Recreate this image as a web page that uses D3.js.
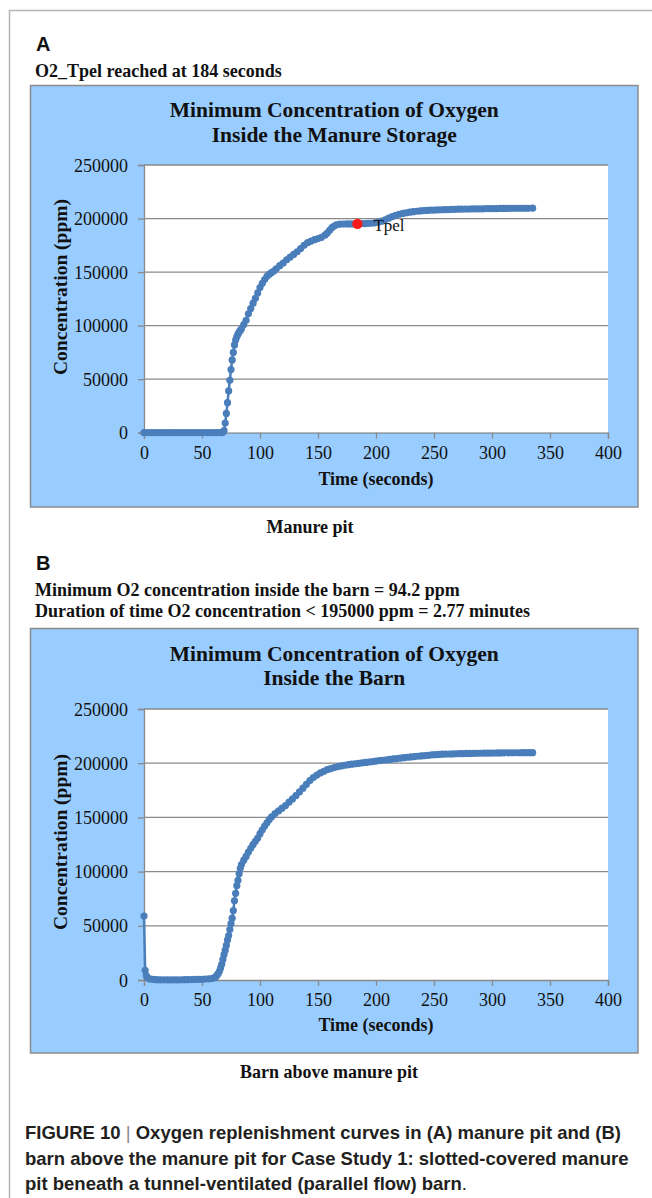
<!DOCTYPE html>
<html>
<head>
<meta charset="utf-8">
<script src="https://cdn.jsdelivr.net/npm/d3@7/dist/d3.min.js"></script>
<style>
  html, body { margin: 0; padding: 0; background: #fff; }
  svg { display: block; }
</style>
</head>
<body>
<svg id="fig" width="652" height="1198"></svg>
<script>
// ---------- DATA ----------
const xTicks = [0, 50, 100, 150, 200, 250, 300, 350, 400];
const yTicks = [0, 50000, 100000, 150000, 200000, 250000];

// Panel A – manure pit
const timeA = [0,3,6,9,12,15,18,21,24,27,30,33,36,39,42,45,48,51,54,57,60,63,66,67,68,69,70,71,72,73,74,75,76,77,78,79,80,81,82,83,84,86,88,90,92,94,96,98,100,102,104,106,108,110,112,114,117,120,123,126,129,132,135,138,141,144,147,150,153,156,158,160,162,164,166,169,172,175,178,181,184,187,190,193,196,199,202,205,208,211,214,217,220,223,226,229,232,235,238,241,244,247,250,253,256,259,262,265,268,271,274,277,280,283,286,289,292,295,298,301,304,307,310,313,316,319,322,325,328,331,335];
const concA = [0,0,0,0,0,0,0,0,0,0,0,0,0,0,0,0,0,0,0,0,0,0,0,0,500,2000,9000,18000,28000,39000,49000,59000,68000,75000,82000,86500,89500,92000,94000,95500,97000,101000,105000,111000,116000,121000,125500,130500,135500,139500,143000,146000,148000,149500,151000,153000,156000,158500,161500,164000,166500,169000,172000,175000,177500,179000,180300,181300,182500,184500,186500,189000,191500,193000,194200,194700,194900,195000,195000,195000,195100,195200,195300,195400,195600,196000,196600,197500,198800,200300,201800,203000,204000,204800,205400,205900,206400,206800,207100,207400,207600,207800,207900,208000,208200,208300,208400,208500,208600,208700,208800,208900,208900,209000,209000,209100,209100,209200,209200,209300,209300,209400,209400,209400,209500,209500,209500,209600,209600,209600,209700];
const tpel = { time: 184, conc: 195000, label: "Tpel" };

// Panel B – barn above manure pit
const timeB = [0,1,2,3,5,8,11,14,17,20,23,26,29,32,35,38,41,44,47,50,53,56,59,61,62,63,64,65,66,67,68,69,70,71,72,73,74,75,76,77,78,79,80,81,82,83,84,86,88,90,92,94,96,98,100,102,104,106,108,110,113,116,119,122,125,128,131,134,137,140,143,146,149,152,155,158,161,164,167,170,173,176,179,182,185,188,191,194,197,200,203,206,209,212,215,218,221,224,227,230,233,236,239,242,245,248,251,254,257,260,263,266,269,272,275,278,281,284,287,290,293,296,299,302,305,308,311,314,317,320,323,326,329,332,335];
const concB = [59000,9000,4000,2000,1000,500,300,200,150,100,100,150,200,250,300,350,400,500,600,700,900,1100,1500,2300,3000,4500,6000,8000,11000,14500,19000,23500,27500,32000,37000,41000,46500,52000,57000,64000,73000,80000,87000,92000,98000,103000,106500,110500,114000,118000,121500,125000,128000,131000,135000,138500,142000,145000,148000,150500,153500,156000,158500,161000,164000,167000,170000,173500,177000,180500,184000,186800,189000,191000,192500,194000,195000,196000,196800,197500,198100,198600,199100,199500,199900,200300,200700,201100,201500,201900,202300,202700,203100,203500,203900,204300,204700,205100,205500,205800,206100,206400,206700,207000,207300,207600,207900,208100,208300,208400,208500,208600,208700,208800,208900,209000,209050,209100,209150,209200,209250,209300,209350,209400,209450,209500,209550,209600,209620,209640,209660,209680,209700,209700,209700];

// ---------- DRAWING ----------
const svg = d3.select("#fig");
const SERIF = "'Liberation Serif','Times New Roman',serif";
const SANS = "'Liberation Sans',Arial,Helvetica,sans-serif";
const LINE_COL = "#4a7ebb";
const GRID_COL = "#8a8a8a";

// outer frame
svg.append("path")
  .attr("d", "M652,10.5 H9.5 V1198")
  .attr("fill", "none").attr("stroke", "#b5b5b5").attr("stroke-width", 1.5);

function panel(cfg) {
  const g = svg.append("g");
  // blue chart area
  g.append("rect")
    .attr("x", cfg.box[0]).attr("y", cfg.box[1])
    .attr("width", cfg.box[2]).attr("height", cfg.box[3])
    .attr("fill", "#99ccff").attr("stroke", "#8c8c8c").attr("stroke-width", 1.5);

  const x = d3.scaleLinear().domain([0, 400]).range([144, 608]);
  const y = d3.scaleLinear().domain([0, 250000]).range(cfg.yRange);

  // plot area
  g.append("rect")
    .attr("x", x(0)).attr("y", y(250000))
    .attr("width", x(400) - x(0)).attr("height", y(0) - y(250000))
    .attr("fill", "#fff");

  // gridlines
  g.append("g").selectAll("line").data(yTicks.filter(d => d > 0)).join("line")
    .attr("x1", x(0)).attr("x2", x(400))
    .attr("y1", d => y(d)).attr("y2", d => y(d))
    .attr("stroke", GRID_COL).attr("stroke-width", 1.3);

  // y axis
  const ya = g.append("g").attr("transform", `translate(${x(0)},0)`)
    .call(d3.axisLeft(y).tickValues(yTicks).tickSize(6).tickPadding(10).tickFormat(d3.format("d")));
  ya.select(".domain").attr("stroke", GRID_COL).attr("stroke-width", 1.3);
  ya.selectAll(".tick line").attr("stroke", GRID_COL).attr("stroke-width", 1.3);
  ya.selectAll(".tick text").attr("font-family", SERIF).attr("font-size", 18).attr("fill", "#111").attr("dy", "0.34em");

  // x axis
  const xa = g.append("g").attr("transform", `translate(0,${y(0)})`)
    .call(d3.axisBottom(x).tickValues(xTicks).tickSize(6).tickPadding(0).tickFormat(d3.format("d")));
  xa.select(".domain").attr("stroke", GRID_COL).attr("stroke-width", 1.3);
  xa.selectAll(".tick line").attr("stroke", GRID_COL).attr("stroke-width", 1.3);
  xa.selectAll(".tick text").attr("font-family", SERIF).attr("font-size", 18).attr("fill", "#111")
    .attr("dy", null).attr("y", cfg.xLabelDy);

  // series
  const pts = cfg.time.map((t, i) => [t, cfg.conc[i]]);
  const line = d3.line().x(d => x(d[0])).y(d => y(d[1]));
  g.append("path").datum(pts).attr("d", line)
    .attr("fill", "none").attr("stroke", LINE_COL).attr("stroke-width", 2.5).attr("stroke-linejoin", "round");
  g.append("g").selectAll("circle").data(pts).join("circle")
    .attr("cx", d => x(d[0])).attr("cy", d => y(d[1])).attr("r", 3.6).attr("fill", LINE_COL);

  if (cfg.marker) {
    g.append("circle").attr("cx", x(cfg.marker.time)).attr("cy", y(cfg.marker.conc))
      .attr("r", 5.2).attr("fill", "#ff1a1a");
    g.append("text").attr("x", x(cfg.marker.time) + 16).attr("y", y(cfg.marker.conc) + 7)
      .attr("font-family", SERIF).attr("font-size", 17).attr("fill", "#111").text(cfg.marker.label);
  }

  // titles
  const cx = cfg.box[0] + cfg.box[2] / 2;
  cfg.title.forEach((t, i) => {
    g.append("text").attr("x", cx).attr("y", cfg.titleY[i]).attr("text-anchor", "middle")
      .attr("font-family", SERIF).attr("font-weight", "bold").attr("font-size", 21.5)
      .attr("fill", "#111").text(t);
  });
  g.append("text").attr("x", (x(0) + x(400)) / 2).attr("y", cfg.xTitleY).attr("text-anchor", "middle")
    .attr("font-family", SERIF).attr("font-weight", "bold").attr("font-size", 18).attr("fill", "#111")
    .text("Time (seconds)");
  g.append("text").attr("transform", `translate(60.5,${cfg.yTitleC}) rotate(-90)`)
    .attr("text-anchor", "middle").attr("dy", "0.33em")
    .attr("font-family", SERIF).attr("font-weight", "bold").attr("font-size", 19.5).attr("fill", "#111")
    .text("Concentration (ppm)");
}

// Panel A headers
svg.append("text").attr("x", 36).attr("y", 51).attr("font-family", SANS).attr("font-weight", "bold")
  .attr("font-size", 20).attr("fill", "#111").text("A");
svg.append("text").attr("x", 35).attr("y", 77).attr("font-family", SERIF).attr("font-weight", "bold")
  .attr("font-size", 18).attr("fill", "#111").text("O2_Tpel reached at 184 seconds");

panel({
  box: [30.5, 85.5, 607.5, 421.5],
  yRange: [432.7, 165],
  title: ["Minimum Concentration of Oxygen", "Inside the Manure Storage"],
  titleY: [117, 141.5],
  xLabelDy: 26.5,
  xTitleY: 484.5,
  yTitleC: 287,
  time: timeA, conc: concA,
  marker: tpel
});
svg.append("text").attr("x", 310).attr("y", 533).attr("text-anchor", "middle")
  .attr("font-family", SERIF).attr("font-weight", "bold").attr("font-size", 18).attr("fill", "#111")
  .text("Manure pit");

// Panel B headers
svg.append("text").attr("x", 36).attr("y", 570).attr("font-family", SANS).attr("font-weight", "bold")
  .attr("font-size", 20).attr("fill", "#111").text("B");
svg.append("text").attr("x", 35).attr("y", 596).attr("font-family", SERIF).attr("font-weight", "bold")
  .attr("font-size", 18).attr("fill", "#111").text("Minimum O2 concentration inside the barn = 94.2 ppm");
svg.append("text").attr("x", 35).attr("y", 617).attr("font-family", SERIF).attr("font-weight", "bold")
  .attr("font-size", 18).attr("fill", "#111").text("Duration of time O2 concentration < 195000 ppm = 2.77 minutes");

panel({
  box: [30.5, 628.5, 607.5, 424.5],
  yRange: [980, 709],
  title: ["Minimum Concentration of Oxygen", "Inside the Barn"],
  titleY: [661, 685],
  xLabelDy: 26,
  xTitleY: 1031,
  yTitleC: 842,
  time: timeB, conc: concB,
  marker: null
});
svg.append("text").attr("x", 329).attr("y", 1078).attr("text-anchor", "middle")
  .attr("font-family", SERIF).attr("font-weight", "bold").attr("font-size", 18).attr("fill", "#111")
  .text("Barn above manure pit");

// Caption
const cap = svg.append("g").attr("font-family", SANS).attr("font-weight", "bold")
  .attr("font-size", 18.5).attr("fill", "#231f20");
const l1 = cap.append("text").attr("x", 25).attr("y", 1139);
l1.append("tspan").text("FIGURE 10 ");
l1.append("tspan").attr("font-weight", "normal").attr("fill", "#8a8a8a").text("|");
l1.append("tspan").text(" Oxygen replenishment curves in (A) manure pit and (B)");
cap.append("text").attr("x", 25).attr("y", 1165)
  .text("barn above the manure pit for Case Study 1: slotted-covered manure");
const l3 = cap.append("text").attr("x", 25).attr("y", 1190);
l3.append("tspan").text("pit beneath a tunnel-ventilated (parallel flow) barn");
l3.append("tspan").attr("font-weight", "normal").text(".");
</script>
</body>
</html>
